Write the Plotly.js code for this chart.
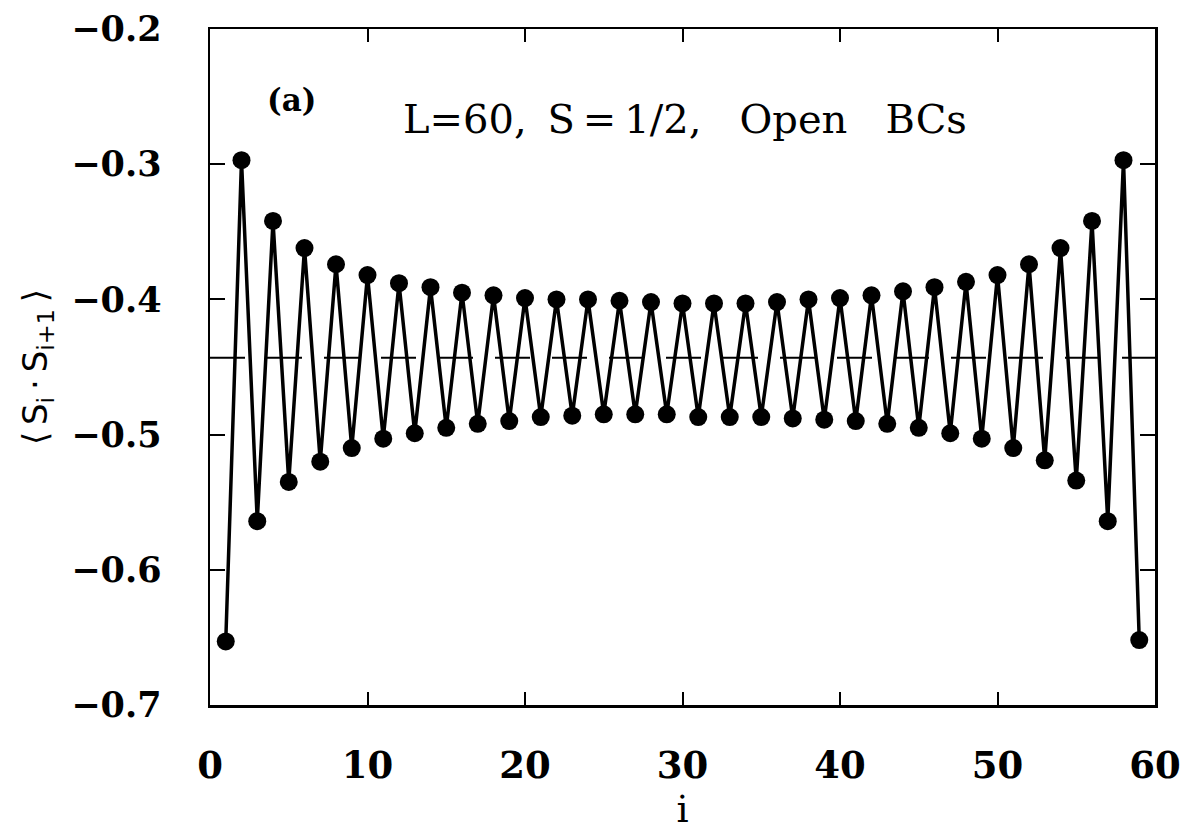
<!DOCTYPE html>
<html>
<head>
<meta charset="utf-8">
<script src="https://cdn.plot.ly/plotly-3.0.1.min.js"></script>
<style>
html, body { margin: 0; padding: 0; background: #ffffff; }
#chart { width: 1180px; height: 836px; }
</style>
</head>
<body>
<div id="chart"></div>
<script>
// Bond index i (bond between sites i and i+1) for an open chain of L = 60 sites
const bondIndex = [1, 2, 3, 4, 5, 6, 7, 8, 9, 10,
  11, 12, 13, 14, 15, 16, 17, 18, 19, 20,
  21, 22, 23, 24, 25, 26, 27, 28, 29, 30,
  31, 32, 33, 34, 35, 36, 37, 38, 39, 40,
  41, 42, 43, 44, 45, 46, 47, 48, 49, 50,
  51, 52, 53, 54, 55, 56, 57, 58, 59];

// <S_i . S_{i+1}>
const bondEnergy = [-0.653, -0.297, -0.564, -0.342, -0.535, -0.362, -0.520, -0.374, -0.510, -0.382,
  -0.503, -0.388, -0.499, -0.391, -0.495, -0.395, -0.492, -0.397, -0.490, -0.399,
  -0.487, -0.400, -0.486, -0.400, -0.485, -0.401, -0.485, -0.402, -0.485, -0.403,
  -0.487, -0.403, -0.487, -0.403, -0.487, -0.402, -0.488, -0.400, -0.489, -0.399,
  -0.490, -0.397, -0.492, -0.394, -0.495, -0.391, -0.499, -0.387, -0.503, -0.382,
  -0.510, -0.374, -0.519, -0.362, -0.534, -0.342, -0.564, -0.297, -0.652];

// Bulk value (1/4 - ln 2) drawn as a dashed reference line
const bulkX = [0, 60];
const bulkValue = [-0.4431, -0.4431];

const xTickVals = [0, 10, 20, 30, 40, 50, 60];
const yTickVals = [-0.7, -0.6, -0.5, -0.4, -0.3, -0.2];

const panelLabel = '(a)';
const infoText = 'L=60,\u00A0\u2009S\u2009=\u20091/2,\u00A0\u00A0\u00A0Open\u00A0\u00A0\u00A0BCs';
const xTitle = 'i';
const yTitle = '\u27E8\u2009S<sub>i</sub>\u2009\u00B7\u2009S<sub>i+1</sub>\u2009\u27E9';

const traces = [
  {
    x: bulkX,
    y: bulkValue,
    type: 'scatter',
    mode: 'lines',
    line: { color: '#000000', width: 2, dash: '35px,22px' },
    hoverinfo: 'skip',
    showlegend: false
  },
  {
    x: bondIndex,
    y: bondEnergy,
    type: 'scatter',
    mode: 'lines+markers',
    line: { color: '#000000', width: 3.5 },
    marker: { color: '#000000', size: 18, line: { width: 0 } },
    showlegend: false
  }
];

const axisCommon = {
  showline: true,
  linecolor: '#000000',
  linewidth: 2.5,
  mirror: 'ticks',
  ticks: 'inside',
  tickcolor: '#000000',
  tickwidth: 2,
  showgrid: false,
  zeroline: false,
  automargin: false,
  ticklabeloverflow: 'allow'
};

const layout = {
  width: 1180,
  height: 836,
  margin: { l: 210, r: 25, t: 29, b: 131 },
  paper_bgcolor: '#ffffff',
  plot_bgcolor: '#ffffff',
  showlegend: false,
  xaxis: Object.assign({}, axisCommon, {
    range: [0, 60],
    tickmode: 'array',
    tickvals: xTickVals,
    ticktext: xTickVals.map(String),
    ticklen: 13,
    ticklabelstandoff: 26,
    tickfont: { family: 'DejaVu Serif', size: 37, color: '#000000', weight: 'bold' },
    title: { text: xTitle, font: { family: 'DejaVu Serif', size: 38, color: '#000000' }, standoff: 8 }
  }),
  yaxis: Object.assign({}, axisCommon, {
    range: [-0.7, -0.2],
    tickmode: 'array',
    tickvals: yTickVals,
    tickformat: '.1f',
    ticklen: 15,
    ticklabelstandoff: 39,
    tickfont: { family: 'DejaVu Serif', size: 35, color: '#000000', weight: 'bold' },
    title: { text: yTitle, font: { family: 'DejaVu Sans', size: 34, color: '#000000' }, standoff: 14 }
  }),
  annotations: [
    {
      x: 3.5, y: -0.2525, xref: 'x', yref: 'y',
      text: panelLabel, showarrow: false,
      xanchor: 'left', yanchor: 'middle',
      font: { family: 'DejaVu Serif', size: 31, color: '#000000', weight: 'bold' }
    },
    {
      x: 12.1, y: -0.2666, xref: 'x', yref: 'y',
      text: infoText, showarrow: false,
      xanchor: 'left', yanchor: 'middle',
      font: { family: 'DejaVu Serif', size: 40, color: '#000000' }
    }
  ]
};

Plotly.newPlot('chart', traces, layout, { displayModeBar: false, staticPlot: true });
</script>
</body>
</html>
